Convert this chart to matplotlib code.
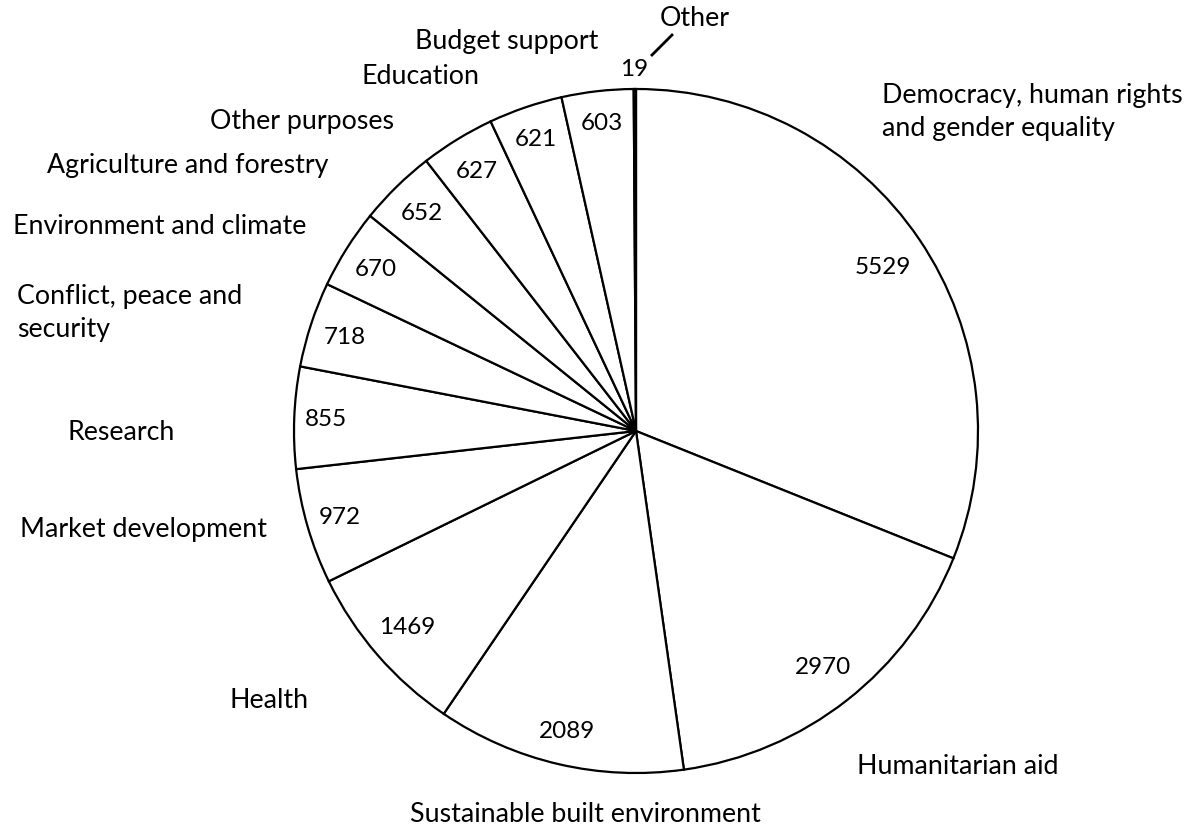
import matplotlib
matplotlib.use("Agg")
import matplotlib.pyplot as plt

# data, clockwise from 12 o'clock
categories = [
    "Democracy, human rights\nand gender equality",
    "Humanitarian aid",
    "Sustainable built environment",
    "Health",
    "Market development",
    "Research",
    "Conflict, peace and\nsecurity",
    "Environment and climate",
    "Agriculture and forestry",
    "Other purposes",
    "Education",
    "Budget support",
    "Other",
]
values = [5529, 2970, 2089, 1469, 972, 855, 718, 670, 652, 627, 621, 603, 19]

# layout (pixel positions, y measured from the top)
W, H = 1190, 831
CENTER = (636, 431)
RADIUS = 342
value_pos = [(883, 268), (823, 668), (567, 732), (407, 627), (340, 517), (326, 420),
             (345, 338), (376, 270), (422, 213), (477, 172), (536, 140), (602, 123), (634, 70)]
label_pos = [(882, 112, "left"), (857, 766, "left"), (585, 815, "center"), (230, 700, "left"),
             (20, 530, "left"), (67, 432, "left"), (17, 313, "left"), (13, 226, "left"),
             (47, 166, "left"), (210, 121, "left"), (362, 77, "left"), (598, 41, "right"),
             (660, 19, "left")]

plt.rcParams["font.family"] = ["Lato", "DejaVu Sans"]
FS_VALUE = 17.5
FS_LABEL = 19.3

fig = plt.figure(figsize=(W / 100, H / 100), dpi=100)
ax = fig.add_axes([0, 0, 1, 1])

ax.pie(values, center=(CENTER[0], H - CENTER[1]), radius=RADIUS, startangle=90,
       counterclock=False, colors=["white"] * len(values),
       wedgeprops=dict(edgecolor="black", linewidth=1.6), frame=True)
ax.set_xlim(0, W)
ax.set_ylim(0, H)
ax.axis("off")

for v, (px, py) in zip(values, value_pos):
    ax.text(px, H - py, str(v), ha="center", va="center", fontsize=FS_VALUE, color="black")

for name, (px, py, ha) in zip(categories, label_pos):
    ax.text(px, H - py, name, ha=ha, va="center", fontsize=FS_LABEL, color="black",
            linespacing=1.4)

# leader line for the tiny "Other" slice
ax.plot([652, 672], [H - 55, H - 35], color="black", linewidth=2)

fig.savefig("out.png", dpi=100)
